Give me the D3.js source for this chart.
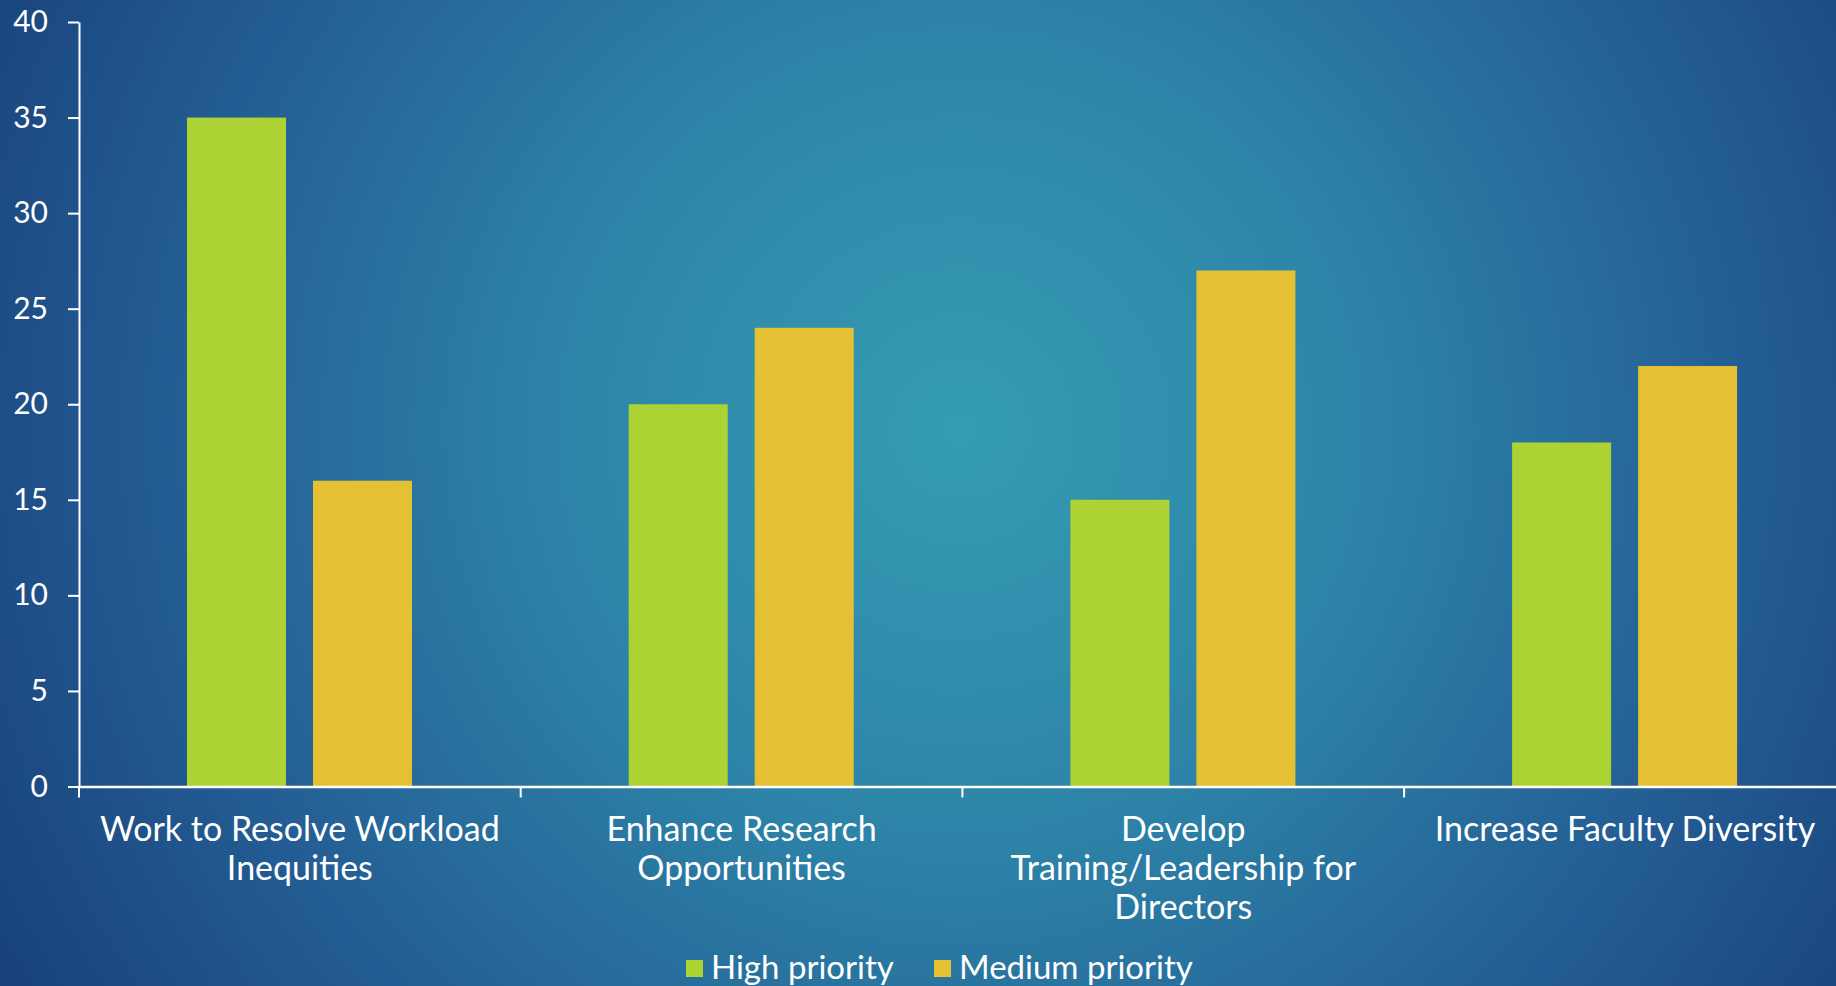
<!DOCTYPE html>
<html>
<head>
<meta charset="utf-8">
<script src="https://cdn.jsdelivr.net/npm/d3@7"></script>
<style>
  html, body { margin: 0; padding: 0; overflow: hidden; background: #1e4f86; }
  svg { display: block; }
  text { font-family: "Lato", "Open Sans", sans-serif; fill: #ffffff; }
</style>
</head>
<body>
<svg id="chart" width="1836" height="986"></svg>
<script>
// Survey priorities: count of respondents per initiative
const categories = [
  "Work to Resolve Workload\nInequities",
  "Enhance Research\nOpportunities",
  "Develop\nTraining/Leadership for\nDirectors",
  "Increase Faculty Diversity"
];
const seriesNames = ["High priority", "Medium priority"];
const highPriority = [35, 20, 15, 18];
const mediumPriority = [16, 24, 27, 22];
const yTicks = [0, 5, 10, 15, 20, 25, 30, 35, 40];
const seriesColors = ["#add234", "#e5c033"];

(function () {
const W = 1836, H = 986;
const svg = d3.select("#chart");

// Slide-style radial backdrop
const defs = svg.append("defs");
const grad = defs.append("radialGradient")
  .attr("id", "bg")
  .attr("gradientUnits", "userSpaceOnUse")
  .attr("cx", 960).attr("cy", 430).attr("r", 1150)
  .attr("fx", 960).attr("fy", 430);
grad.append("stop").attr("offset", 0).attr("stop-color", "#359cb3");
grad.append("stop").attr("offset", 0.35).attr("stop-color", "#2d84a8");
grad.append("stop").attr("offset", 0.7).attr("stop-color", "#235b93");
grad.append("stop").attr("offset", 1).attr("stop-color", "#173d76");
svg.append("rect").attr("width", W).attr("height", H).attr("fill", "url(#bg)");

const plotLeft = 79, plotTop = 22, plotBottom = 786.5;
const bandW = 441.7;

const x0 = d3.scaleBand()
  .domain(categories)
  .range([plotLeft, plotLeft + bandW * categories.length])
  .paddingInner(0).paddingOuter(0);

const x1 = d3.scaleBand()
  .domain(seriesNames)
  .range([108, 333])
  .paddingInner(27 / 126)
  .paddingOuter(0);

const y = d3.scaleLinear().domain([0, 40]).range([plotBottom, plotTop]);

const rows = categories.map((c, i) => ({
  cat: c,
  values: [highPriority[i], mediumPriority[i]]
}));

// Bars
const groups = svg.append("g")
  .selectAll("g")
  .data(rows)
  .join("g")
  .attr("transform", d => `translate(${x0(d.cat)},0)`);

groups.selectAll("rect")
  .data(d => d.values.map((v, j) => ({ name: seriesNames[j], v, j })))
  .join("rect")
  .attr("x", d => x1(d.name))
  .attr("width", x1.bandwidth())
  .attr("y", d => y(d.v))
  .attr("height", d => y(0) - y(d.v))
  .attr("fill", d => seriesColors[d.j]);

// Y axis
const yAxis = svg.append("g")
  .attr("transform", `translate(${plotLeft},0)`)
  .call(d3.axisLeft(y).tickValues(yTicks).tickSize(11).tickSizeOuter(0).tickPadding(20));
yAxis.select(".domain").attr("stroke", "#ffffff").attr("stroke-width", 2);
yAxis.selectAll(".tick line").attr("stroke", "#ffffff").attr("stroke-width", 2);
yAxis.selectAll(".tick text")
  .attr("fill", "#ffffff")
  .style("font-family", "Lato, 'Open Sans', sans-serif")
  .style("font-size", "30px");

// X axis (runs past the right edge of the page)
const xAxis = svg.append("g")
  .attr("transform", `translate(0,${plotBottom})`)
  .call(d3.axisBottom(x0).tickSize(0).tickSizeOuter(0).tickFormat(""));
xAxis.select(".domain").attr("stroke", "#ffffff").attr("stroke-width", 2.5);

// Category boundary ticks
const bounds = d3.range(categories.length + 1).map(i => plotLeft + i * bandW);
svg.append("g").selectAll("line")
  .data(bounds)
  .join("line")
  .attr("x1", d => d).attr("x2", d => d)
  .attr("y1", plotBottom).attr("y2", plotBottom + 11)
  .attr("stroke", "#ffffff").attr("stroke-width", 2);

// Category labels
const lineGap = 38.8;
svg.append("g").selectAll("text")
  .data(categories)
  .join("text")
  .attr("text-anchor", "middle")
  .style("font-size", "34px")
  .attr("transform", d => `translate(${x0(d) + x0.bandwidth() / 2},841)`)
  .each(function(d) {
    d.split("\n").forEach((line, k) => {
      d3.select(this).append("tspan")
        .attr("x", 0)
        .attr("y", k * lineGap)
        .text(line);
    });
  });

// Legend
const legendX = [686, 934];
const legend = svg.append("g");
seriesNames.forEach((name, i) => {
  legend.append("rect")
    .attr("x", legendX[i]).attr("y", 960)
    .attr("width", 17).attr("height", 17)
    .attr("fill", seriesColors[i]);
  legend.append("text")
    .attr("x", legendX[i] + 25).attr("y", 979)
    .style("font-size", "33px")
    .text(name);
});
})();
</script>
</body>
</html>
